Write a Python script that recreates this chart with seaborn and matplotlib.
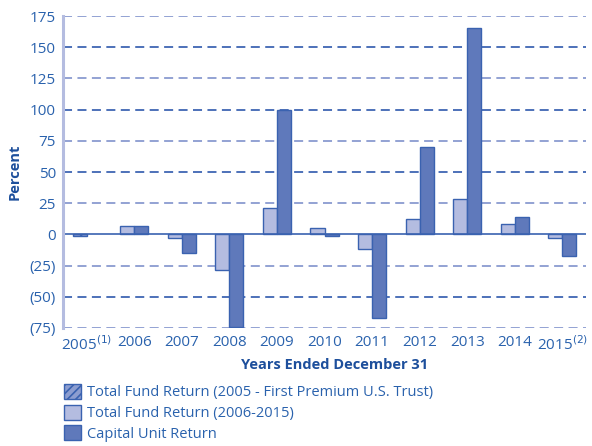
import numpy as np
import pandas as pd
import matplotlib
matplotlib.use("Agg")
import matplotlib.pyplot as plt
from matplotlib.patches import Patch
import seaborn as sns

# values (percent)
years = ["2005", "2006", "2007", "2008", "2009", "2010",
         "2011", "2012", "2013", "2014", "2015"]
year_labels = ["2005$^{(1)}$", "2006", "2007", "2008", "2009", "2010",
               "2011", "2012", "2013", "2014", "2015$^{(2)}$"]
total_fund = [-1.5, 7, -3, -28.5, 21.5, 5, -12, 12, 28.5, 8, -3]
capital_unit = [np.nan, 7, -15, -74, 100, -1, -67, 70, 165, 14, -17]
y_ticks = [-75, -50, -25, 0, 25, 50, 75, 100, 125, 150, 175]
legend_labels = ["Total Fund Return (2005 - First Premium U.S. Trust)",
                 "Total Fund Return (2006-2015)",
                 "Capital Unit Return"]

light = "#b4bce0"
dark = "#5f79bb"
edge = "#3a62b0"
txt = "#2a62ad"
navy = "#1d4f9c"

df = pd.DataFrame({
    "year": years * 2,
    "value": total_fund + capital_unit,
    "series": ["Total Fund"] * len(years) + ["Capital Unit"] * len(years),
})

sns.set_style("white")
plt.rcParams["font.family"] = ["Open Sans", "DejaVu Sans"]
plt.rcParams["hatch.linewidth"] = 1.2

fig = plt.figure(figsize=(5.92, 4.46), dpi=100)
ax = fig.add_axes([63 / 592, 1 - 328 / 446, 523 / 592, 312 / 446])

sns.barplot(data=df, x="year", y="value", hue="series",
            hue_order=["Total Fund", "Capital Unit"],
            palette=[light, dark], saturation=1, width=0.59, gap=0,
            edgecolor=edge, linewidth=1.0, legend=False, ax=ax, zorder=3)

# the 2005 fund bar is hatched
first = ax.patches[0]
first.set_hatch("////")
first.set_facecolor("#8c9dd0")

ax.set_ylim(-75, 175)
ax.set_xlim(-0.5, len(years) - 0.5)
ax.set_yticks(y_ticks)
ax.set_yticklabels([f"({-v})" if v < 0 else str(v) for v in y_ticks])
ax.set_xticks(range(len(years)))
ax.set_xticklabels(year_labels)
ax.tick_params(axis="both", length=0, labelsize=11, colors=txt, pad=5)

for v in y_ticks:
    if v == 0:
        ax.axhline(0, color=edge, lw=1.2, zorder=4)
    else:
        c = "#3f66b3" if v % 50 == 0 else "#8a9bd0"
        ax.axhline(v, color=c, lw=1.3, ls=(0, (5, 3)), zorder=1)

for s in ["top", "right", "bottom"]:
    ax.spines[s].set_visible(False)
ax.spines["left"].set_color("#b4bce0")
ax.spines["left"].set_linewidth(2.2)
ax.spines["left"].set_zorder(5)

ax.set_ylabel("Percent", fontsize=10.5, fontweight="bold", color=navy, labelpad=6)
ax.set_xlabel("Years Ended December 31", fontsize=10.5, fontweight="bold",
              color=navy)
ax.xaxis.set_label_coords(0.52, -0.095)

handles = [Patch(facecolor="#8c9dd0", edgecolor=edge, hatch="////"),
           Patch(facecolor=light, edgecolor=edge),
           Patch(facecolor=dark, edgecolor=edge)]
leg = fig.legend(handles, legend_labels, loc="upper left",
                 bbox_to_anchor=(58 / 592, 1 - 378 / 446), frameon=False,
                 fontsize=10.5, handlelength=1.2, handleheight=1.2,
                 handletextpad=0.4, labelspacing=0.3, borderaxespad=0)
for t in leg.get_texts():
    t.set_color(txt)

fig.savefig("out.png", dpi=100)
